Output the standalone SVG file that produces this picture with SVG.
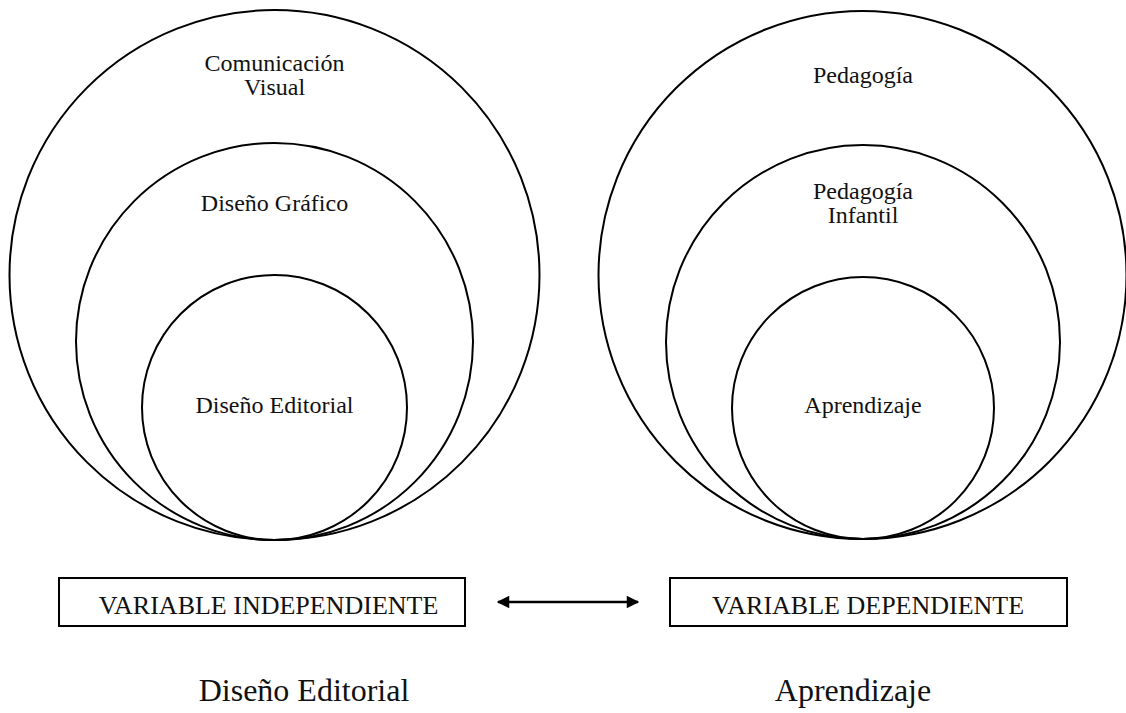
<svg xmlns="http://www.w3.org/2000/svg" width="1126" height="713" viewBox="0 0 1126 713">
  <style>
    .ring { fill: none; stroke: #000; stroke-width: 2; }
    .box { fill: #fff; stroke: #000; stroke-width: 2; }
    .lbl { font-family: "Liberation Serif", "Times New Roman", serif; font-size: 24px; fill: #111; text-anchor: middle; }
    .var { font-family: "Liberation Serif", "Times New Roman", serif; font-size: 26px; fill: #111; text-anchor: middle; }
    .cap { font-family: "Liberation Serif", "Times New Roman", serif; font-size: 32px; fill: #111; text-anchor: middle; }
    .link { stroke: #000; stroke-width: 2.5; fill: none; }
  </style>
  <defs>
    <marker id="head" viewBox="0 0 10 10" refX="9" refY="5" markerWidth="6" markerHeight="5" markerUnits="strokeWidth" orient="auto-start-reverse">
      <path d="M0,0 L10,5 L0,10 Z" fill="#000"/>
    </marker>
  </defs>
  <rect width="1126" height="713" fill="#fff"/>

  <!-- independent variable: nested circles -->
  <g id="comunicacion-visual">
    <circle class="ring" cx="274.5" cy="275" r="265"/>
    <text class="lbl" x="274.5" y="71">Comunicación</text>
    <text class="lbl" x="274.5" y="95">Visual</text>
  </g>
  <g id="diseno-grafico">
    <circle class="ring" cx="274.5" cy="341.5" r="198.5"/>
    <text class="lbl" x="274.5" y="211">Diseño Gráfico</text>
  </g>
  <g id="diseno-editorial">
    <circle class="ring" cx="274.5" cy="407.5" r="132.5"/>
    <text class="lbl" x="274.5" y="413">Diseño Editorial</text>
  </g>

  <!-- dependent variable: nested circles -->
  <g id="pedagogia">
    <circle class="ring" cx="862.5" cy="275" r="264"/>
    <text class="lbl" x="863" y="83">Pedagogía</text>
  </g>
  <g id="pedagogia-infantil">
    <circle class="ring" cx="863" cy="342" r="197"/>
    <text class="lbl" x="863" y="199">Pedagogía</text>
    <text class="lbl" x="863" y="223">Infantil</text>
  </g>
  <g id="aprendizaje">
    <circle class="ring" cx="863" cy="408" r="131"/>
    <text class="lbl" x="863" y="413">Aprendizaje</text>
  </g>

  <!-- variable boxes -->
  <g id="variable-independiente">
    <rect class="box" x="59" y="578" width="406" height="48"/>
    <text class="var" x="268.5" y="614">VARIABLE INDEPENDIENTE</text>
  </g>
  <g id="variable-dependiente">
    <rect class="box" x="670" y="578" width="397" height="48"/>
    <text class="var" x="868" y="614">VARIABLE DEPENDIENTE</text>
  </g>

  <!-- captions -->
  <g id="caption-independiente">
    <text class="cap" x="304" y="701">Diseño Editorial</text>
  </g>
  <g id="caption-dependiente">
    <text class="cap" x="853" y="701">Aprendizaje</text>
  </g>

  <!-- connectors -->
  <g id="connectors">
    <line class="link" x1="498" y1="602" x2="638" y2="602" marker-start="url(#head)" marker-end="url(#head)"/>
  </g>
</svg>
